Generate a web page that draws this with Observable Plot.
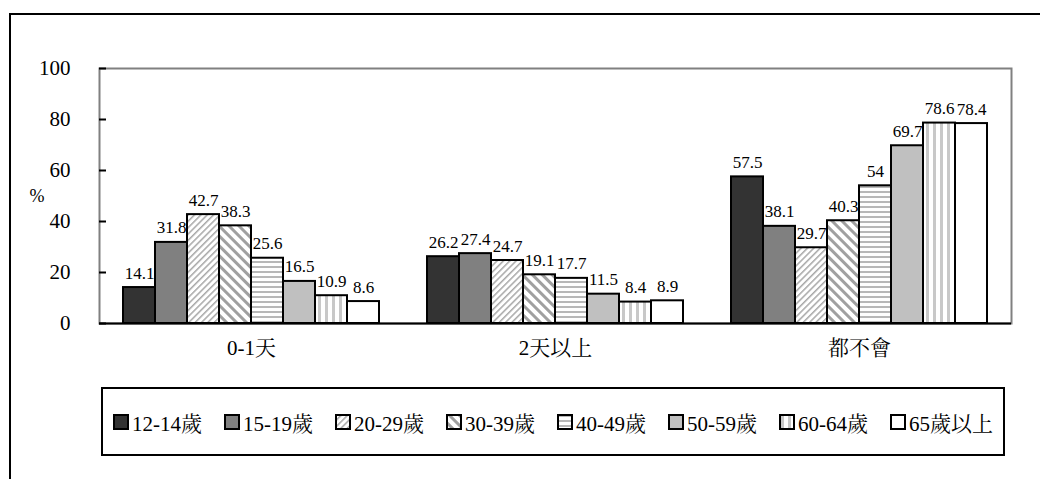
<!DOCTYPE html>
<html>
<head>
<meta charset="utf-8">
<script src="https://cdn.jsdelivr.net/npm/d3@7"></script>
<script src="https://cdn.jsdelivr.net/npm/@observablehq/plot@0.6"></script>
<style>
  html, body { margin: 0; padding: 0; background: #fff; overflow: hidden; }
  body { width: 1040px; height: 479px; position: relative; }
  #outer { position: absolute; left: 9px; top: 13px; width: 1100px; height: 520px; border: 2px solid #000; box-sizing: border-box; }
  #chart { position: absolute; left: 0; top: 0; }
  #legend { position: absolute; left: 101px; top: 387px; width: 904px; height: 69px; border: 2px solid #000; box-sizing: border-box;
            display: flex; align-items: center; justify-content: center; gap: 22px; font-size: 21px; color: #000;
            font-family: 'Liberation Serif', 'Noto Serif CJK TC', serif; }
  .item { display: flex; align-items: center; white-space: nowrap; }
  .item svg { margin-right: 3px; }
</style>
</head>
<body>
<div id="outer"></div>
<div id="chart"></div>
<div id="legend"></div>
<script>
const categories = ["0-1天", "2天以上", "都不會"];
const ageGroups = ["12-14歲", "15-19歲", "20-29歲", "30-39歲", "40-49歲", "50-59歲", "60-64歲", "65歲以上"];
const values01 = [14.1, 31.8, 42.7, 38.3, 25.6, 16.5, 10.9, 8.6];
const values2plus = [26.2, 27.4, 24.7, 19.1, 17.7, 11.5, 8.4, 8.9];
const valuesNever = [57.5, 38.1, 29.7, 40.3, 54, 69.7, 78.6, 78.4];
const yTicks = [0, 20, 40, 60, 80, 100];
const fills = ["#333333", "#808080", "url(#p20)", "url(#p30)", "url(#p40)", "#c0c0c0", "url(#p60)", "#ffffff"];

const seriesByCat = [values01, values2plus, valuesNever];
const data = [];
categories.forEach((c, i) => ageGroups.forEach((a, j) => data.push({cat: c, age: a, value: seriesByCat[i][j]})));

const FONT = "'Liberation Serif', 'Noto Serif CJK TC', serif";

function patternDefs(sel) {
  const defs = sel.append("defs");
  let p = defs.append("pattern").attr("id", "p20").attr("patternUnits", "userSpaceOnUse")
    .attr("width", 4.5).attr("height", 4.5).attr("patternTransform", "rotate(45)");
  p.append("rect").attr("width", 4.5).attr("height", 4.5).attr("fill", "#fff");
  p.append("rect").attr("width", 1.5).attr("height", 4.5).attr("fill", "#a8a8a8");
  p = defs.append("pattern").attr("id", "p30").attr("patternUnits", "userSpaceOnUse")
    .attr("width", 7).attr("height", 7).attr("patternTransform", "rotate(-45)");
  p.append("rect").attr("width", 7).attr("height", 7).attr("fill", "#fff");
  p.append("rect").attr("width", 3).attr("height", 7).attr("fill", "#a0a0a0");
  p = defs.append("pattern").attr("id", "p40").attr("patternUnits", "userSpaceOnUse")
    .attr("width", 6).attr("height", 5);
  p.append("rect").attr("width", 6).attr("height", 5).attr("fill", "#fff");
  p.append("rect").attr("y", 1).attr("width", 6).attr("height", 2).attr("fill", "#b8b8b8");
  p = defs.append("pattern").attr("id", "p60").attr("patternUnits", "userSpaceOnUse")
    .attr("width", 7).attr("height", 6);
  p.append("rect").attr("width", 7).attr("height", 6).attr("fill", "#fff");
  p.append("rect").attr("x", 2).attr("width", 3).attr("height", 6).attr("fill", "#c8c8c8");
}

const chart = Plot.plot({
  width: 1040,
  height: 380,
  marginLeft: 98,
  marginRight: 28,
  marginTop: 68,
  marginBottom: 57,
  fx: {domain: categories, padding: 0, label: null, tickSize: 0, tickPadding: 17},
  x: {domain: ageGroups, axis: null, paddingInner: 0, paddingOuter: 0.724},
  y: {domain: [0, 100], axis: null},
  color: {domain: ageGroups, range: fills},
  marks: [
    Plot.frame({facet: "super", stroke: "#808080", strokeWidth: 2}),
    Plot.barY(data, {fx: "cat", x: "age", y: "value", fill: "age", stroke: "#000", strokeWidth: 2, insetLeft: 0, insetRight: 0}),
    Plot.text(data, {fx: "cat", x: "age", y: "value", text: d => String(d.value), lineAnchor: "bottom", dy: -9, fontSize: 17, fill: "#000"}),
    Plot.ruleY([0], {stroke: "#000", strokeWidth: 2}),
    Plot.axisY({ticks: yTicks, tickSize: -7, tickPadding: 36, strokeWidth: 2, line: true, label: null, fontSize: 21}),
    Plot.text([{cat: categories[0]}], {fx: "cat", text: () => "%", frameAnchor: "left", dx: -70, fontSize: 18, fill: "#000"})
  ]
});
const svg = d3.select(chart);
svg.attr("font-family", FONT).attr("font-size", 21).style("font-family", FONT).style("font-size", "21px").style("background", "transparent");
svg.selectAll("g").attr("font-family", null);
svg.selectAll("text").attr("font-family", FONT).style("font-family", FONT).attr("fill", "#000");
patternDefs(svg);
svg.select("defs").lower();
document.getElementById("chart").appendChild(chart);

const legend = d3.select("#legend");
ageGroups.forEach((a, i) => {
  const item = legend.append("div").attr("class", "item");
  const s = item.append("svg").attr("width", 16).attr("height", 16);
  s.append("rect").attr("x", 1).attr("y", 1).attr("width", 14).attr("height", 14)
    .attr("fill", fills[i]).attr("stroke", "#000").attr("stroke-width", 2);
  item.append("span").text(a);
});
</script>
</body>
</html>
